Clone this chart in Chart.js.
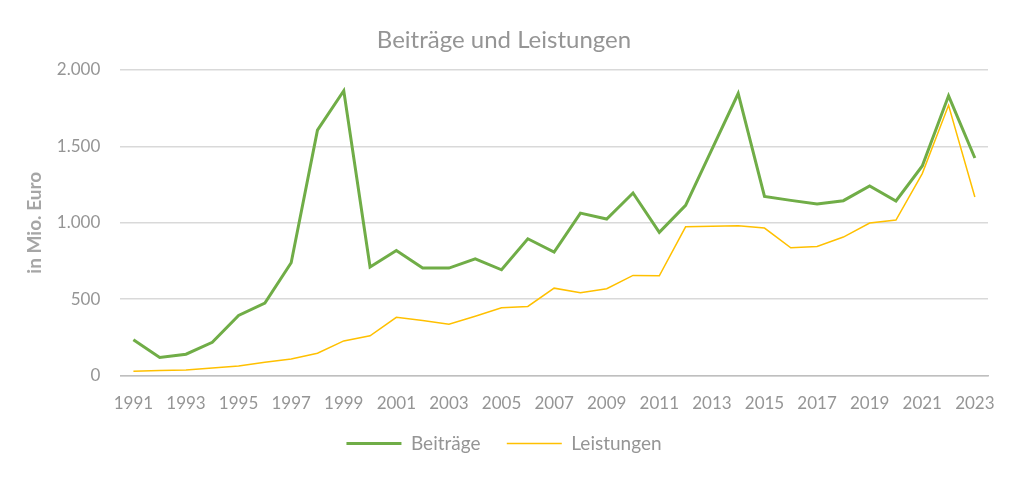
<!DOCTYPE html>
<html>
<head>
<meta charset="utf-8">
<script src="https://cdn.jsdelivr.net/npm/chart.js@4"></script>
<style>
    html, body { margin: 0; padding: 0; background: #fff; }
    #wrap { width: 1024px; height: 479px; }
</style>
</head>
<body>
<div id="wrap"><canvas id="chart"></canvas></div>
<script>
const years = [];
for (let y = 1991; y <= 2023; y++) years.push(String(y));

const beitraege = [234, 118, 140, 218, 393, 474, 738, 1605, 1863, 710, 818,
    703, 703, 764, 692, 895, 808, 1063, 1024, 1194, 937,
    1113, 1480, 1845, 1172, 1146, 1122, 1144, 1240, 1142, 1371, 1830, 1423];
const leistungen = [28, 33, 37, 50, 63, 87, 109, 146, 227, 260, 381,
    360, 336, 388, 443, 452, 572, 542, 568, 655, 653,
    973, 976, 980, 965, 836, 845, 906, 998, 1017, 1321, 1768, 1168];

const yTicks = [0, 500, 1000, 1500, 2000];

const grey = '#959595';
const font = 'Lato, "Open Sans", sans-serif';

function formatDe(v) {
    return String(v).replace(/\B(?=(\d{3})+(?!\d))/g, '.');
}

const ctx = document.getElementById('chart').getContext('2d');
new Chart(ctx, {
    type: 'line',
    data: {
        labels: years,
        datasets: [{
            label: 'Beiträge',
            data: beitraege,
            borderColor: '#70ad47',
            backgroundColor: '#70ad47',
            borderWidth: 3,
            pointRadius: 0,
            pointStyle: 'line',
            tension: 0,
        }, {
            label: 'Leistungen',
            data: leistungen,
            borderColor: '#ffc000',
            backgroundColor: '#ffc000',
            borderWidth: 1.5,
            pointRadius: 0,
            pointStyle: 'line',
            tension: 0,
        }],
    },
    options: {
        responsive: true,
        maintainAspectRatio: false,
        animation: false,
        layout: { padding: { left: 20, right: 36, top: 26, bottom: 16 } },
        plugins: {
            title: {
                display: true,
                text: 'Beiträge und Leistungen',
                color: grey,
                font: { family: font, size: 24, weight: 'normal' },
                padding: { top: 0, bottom: 15 },
            },
            legend: {
                position: 'bottom',
                labels: {
                    usePointStyle: true,
                    pointStyleWidth: 55,
                    boxHeight: 3,
                    color: grey,
                    font: { family: font, size: 19 },
                    padding: 2,
                    generateLabels: function (chart) {
                        const items = Chart.defaults.plugins.legend.labels.generateLabels(chart);
                        // extra room between the two entries
                        items.forEach((item, i) => {
                            if (i < items.length - 1) item.text += '\u00a0'.repeat(5);
                        });
                        return items;
                    },
                },
            },
            tooltip: { enabled: false },
        },
        scales: {
            x: {
                offset: true,
                grid: { display: false, drawTicks: false },
                border: { color: '#bfbfbf', width: 1.5 },
                ticks: {
                    autoSkip: false,
                    maxRotation: 0,
                    color: grey,
                    padding: 18,
                    font: { family: font, size: 17 },
                    callback: function (value, index) {
                        return index % 2 === 0 ? years[index] : '';
                    },
                },
            },
            y: {
                min: 0,
                max: 2000,
                afterBuildTicks: function (axis) {
                    axis.ticks = yTicks.map(v => ({ value: v }));
                },
                grid: { color: '#d9d9d9', lineWidth: 1.5, drawTicks: false },
                border: { display: false },
                ticks: {
                    color: grey,
                    padding: 20,
                    font: { family: font, size: 17 },
                    callback: v => formatDe(v),
                },
                title: {
                    display: true,
                    text: 'in Mio. Euro',
                    color: '#a6a6a6',
                    font: { family: font, size: 19, weight: 'bold' },
                    padding: { top: 3, bottom: -9 },
                },
            },
        },
    },
});
</script>
</body>
</html>
